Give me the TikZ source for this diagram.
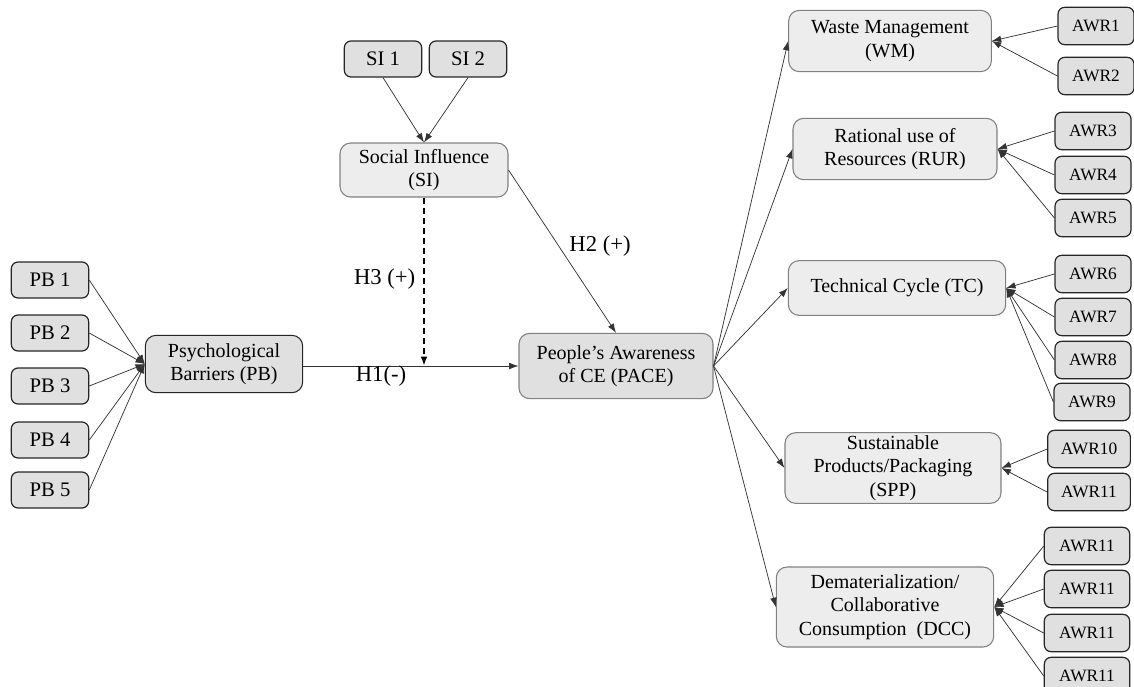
\documentclass[tikz,border=0pt]{standalone}
\usepackage{fontspec}
\setmainfont{Liberation Serif}
\usetikzlibrary{arrows.meta}

\tikzset{
  item/.style={draw=black!85, fill=black!12, line width=0.9pt, rounded corners=5pt,
    inner sep=0pt, minimum width=58pt, minimum height=27pt, font=\fontsize{15.5}{17}\selectfont},
  awr/.style={item, minimum width=57pt, minimum height=28pt, font=\fontsize{13}{15}\selectfont},
  construct/.style={draw=black!50, fill=black!7, line width=0.8pt, rounded corners=8pt,
    inner sep=0pt, align=center, font=\fontsize{15}{17.5}\selectfont},
  link/.style={draw=black!80, line width=0.55pt, -{Latex[length=7pt,width=5pt]}},
  hyp/.style={font=\fontsize{17}{19}\selectfont},
}

\begin{document}
\begin{tikzpicture}[x=0.75pt,y=-0.75pt]
  \clip (0,0) rectangle (1134,686);

  % indicators of psychological barriers
  \node[item] (pb1) at (50,280) {PB 1};
  \node[item] (pb2) at (50,333) {PB 2};
  \node[item] (pb3) at (50,386) {PB 3};
  \node[item] (pb4) at (50,440) {PB 4};
  \node[item] (pb5) at (50,490) {PB 5};

  % indicators of social influence
  \node[item] (si1) at (383,59) {SI 1};
  \node[item] (si2) at (468,59) {SI 2};

  % constructs
  \node[construct, draw=black!85, fill=black!12, minimum width=118pt, minimum height=43pt] (pb) at (224,364) {Psychological\\Barriers (PB)};
  \node[construct, minimum width=126pt, minimum height=40.5pt] (si) at (424,170) {Social Influence\\(SI)};
  \node[construct, fill=black!12, minimum width=145.5pt, minimum height=49pt] (pace) at (616,366) {People's Awareness\\of CE (PACE)};
  \node[construct, minimum width=152pt, minimum height=46pt] (wm) at (890,41) {Waste Management\\(WM)};
  \node[construct, minimum width=153pt, minimum height=46pt] (rur) at (895,149) {Rational use of\\Resources (RUR)};
  \node[construct, minimum width=163pt, minimum height=41pt] (tc) at (897,288) {Technical Cycle (TC)};
  \node[construct, minimum width=162pt, minimum height=53pt] (spp) at (893,468) {Sustainable\\Products/Packaging\\(SPP)};
  \node[construct, minimum width=163pt, minimum height=60pt] (dcc) at (885,607) {Dematerialization/\\Collaborative\\Consumption~~(DCC)};

  % indicators of the awareness dimensions
  \node[awr] (awr1) at (1096,26) {AWR1};
  \node[awr] (awr2) at (1096,76) {AWR2};
  \node[awr] (awr3) at (1093,131) {AWR3};
  \node[awr] (awr4) at (1093,175) {AWR4};
  \node[awr] (awr5) at (1093,218) {AWR5};
  \node[awr] (awr6) at (1093,274) {AWR6};
  \node[awr] (awr7) at (1093,317) {AWR7};
  \node[awr] (awr8) at (1093,360) {AWR8};
  \node[awr] (awr9) at (1092,402) {AWR9};
  \node[awr, minimum width=62pt] (awr10) at (1089,449) {AWR10};
  \node[awr, minimum width=62pt] (awr11) at (1089,492) {AWR11};
  \node[awr, minimum width=64pt] (awr12) at (1087,546) {AWR11};
  \node[awr, minimum width=64pt] (awr13) at (1087,589) {AWR11};
  \node[awr, minimum width=64pt] (awr14) at (1087,633) {AWR11};
  \node[awr, minimum width=64pt] (awr15) at (1087,676) {AWR11};

  \coordinate (mod) at (si.south |- pace.west);

  \begin{scope}[link]
    \foreach \i in {1,...,5}
      \draw (pb\i.east) to (pb.west);
    \draw (si1.south) to (si.north);
    \draw (si2.south) to (si.north);
    \draw (pb.east |- pace.west) to (pace.west);
    \draw (si.east) to (pace.north);
    \draw[draw=black, line width=1.8pt, dash pattern=on 5pt off 2.5pt] (si.south) to (mod);
    \draw (pace.east) to (wm.west);
    \draw (pace.east) to (rur.west);
    \draw (pace.east) to (tc.west);
    \draw (pace.east) to (spp.west);
    \draw (pace.east) to (dcc.west);
    \draw (awr1.west) to (wm.east);
    \draw (awr2.west) to (wm.east);
    \foreach \i in {3,4,5}
      \draw (awr\i.west) to (rur.east);
    \foreach \i in {6,...,9}
      \draw (awr\i.west) to (tc.east);
    \draw (awr10.west) to (spp.east);
    \draw (awr11.west) to (spp.east);
    \foreach \i in {12,...,15}
      \draw (awr\i.west) to (dcc.east);
  \end{scope}

  % hypotheses
  \node[hyp, anchor=east] (h3) at (420,279) {H3 (+)};
  \node[hyp] (h1) at (381,376) {H1(-)};
  \node[hyp] (h2) at (600,246) {H2 (+)};
\end{tikzpicture}
\end{document}
